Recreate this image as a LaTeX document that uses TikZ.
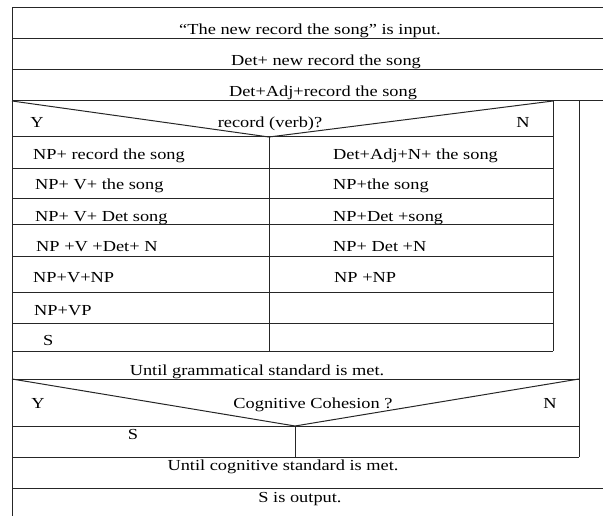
\documentclass[tikz,border=0pt]{standalone}
\usepackage{fontspec}
\setmainfont{Liberation Serif}[FakeStretch=1.2]
\begin{document}
\begin{tikzpicture}[x=1pt,y=-1pt,
  ln/.style={draw=black!85, line width=1pt},
  txt/.style={inner sep=0pt, font=\fontsize{15.3}{18}\selectfont},
  lt/.style={txt, anchor=base west},
  ct/.style={txt, anchor=base}]
\useasboundingbox (0,0) rectangle (603,516);
% outer frame and top cells
\draw[ln] (12,516) -- (12,7.5) -- (603,7.5);
\draw[ln] (12,38.5) -- (603,38.5);
\draw[ln] (12,70) -- (603,70);
\draw[ln] (12,101) -- (603,101);
% decision 1
\draw[ln] (12,101) -- (269,137) -- (553,101);
\draw[ln] (12,137) -- (553,137);
\draw[ln] (553,101) -- (553,351);
\draw[ln] (579,101) -- (579,457);
\draw[ln] (269,137) -- (269,351);
\foreach \y in {169,199,225,256,292,323.5,351} \draw[ln] (12,\y) -- (553,\y);
% grammatical loop end
\draw[ln] (12,379) -- (579,379);
% decision 2
\draw[ln] (12,379) -- (295,426) -- (579,379);
\draw[ln] (12,426) -- (579,426);
\draw[ln] (295,426) -- (295,457);
\draw[ln] (12,457) -- (579,457);
\draw[ln] (12,488) -- (603,488);
% texts
\node[ct] (t1) at (310,35) {“The new record the song” is input.};
\node[ct] (t2) at (326,65.5) {Det+ new record the song};
\node[ct] (t3) at (323,97) {Det+Adj+record the song};
\node[ct] (y1) at (37,128) {Y};
\node[ct] (q1) at (270,128) {record (verb)?};
\node[ct] (n1) at (523,128) {N};
\node[lt] (l1) at (33,160) {NP+ record the song};
\node[lt] (l2) at (35,190) {NP+ V+ the song};
\node[lt] (l3) at (35,222) {NP+ V+ Det song};
\node[lt] (l4) at (36,251.5) {NP +V +Det+ N};
\node[lt] (l5) at (33,283) {NP+V+NP};
\node[lt] (l6) at (34,315) {NP+VP};
\node[lt] (l7) at (43,345) {S};
\node[lt] (r1) at (333,160) {Det+Adj+N+ the song};
\node[lt] (r2) at (333,190) {NP+the song};
\node[lt] (r3) at (333,222) {NP+Det +song};
\node[lt] (r4) at (333,251.5) {NP+ Det +N};
\node[lt] (r5) at (334,283) {NP +NP};
\node[ct] (u1) at (257,375) {Until grammatical standard is met.};
\node[ct] (y2) at (38,408) {Y};
\node[ct] (q2) at (313,408) {Cognitive Cohesion ?};
\node[ct] (n2) at (550,408) {N};
\node[ct] (s2) at (133,439) {S};
\node[ct] (u2) at (283,470) {Until cognitive standard is met.};
\node[ct] (o1) at (300,502) {S is output.};
\end{tikzpicture}
\end{document}
